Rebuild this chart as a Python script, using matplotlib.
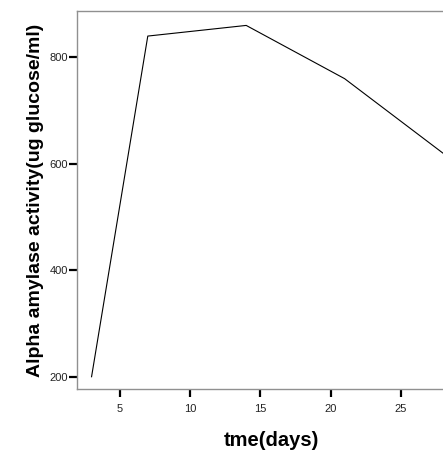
import matplotlib
matplotlib.use('Agg')
import matplotlib.pyplot as plt

# data
days = [3, 7, 14, 21, 28]
activity = [200, 840, 860, 760, 620]
xticks = [5, 10, 15, 20, 25]
yticks = [200, 400, 600, 800]

plt.rcParams['font.family'] = ['Liberation Sans', 'DejaVu Sans']

fig = plt.figure(figsize=(4.43, 4.51), dpi=100)
ax = fig.add_axes([0.174, 0.1375, 0.826, 0.838])

ax.plot(days, activity, color='black', linewidth=0.8)
ax.set_xlim(1.97, 28)
ax.set_ylim(177, 887)
ax.set_xticks(xticks)
ax.set_yticks(yticks)

for side in ['left', 'bottom', 'top']:
    ax.spines[side].set_color('#909090')
    ax.spines[side].set_linewidth(1.0)
ax.spines['right'].set_visible(False)

ax.tick_params(direction='out', length=5.5, width=1.6, color='black',
               labelsize=8, labelcolor='#222222', pad=1)
ax.tick_params(axis='x', pad=5)

ax.set_xlabel('tme(days)', fontsize=14.5, fontweight='bold')
ax.xaxis.set_label_coords(0.53, -0.11)
ax.set_ylabel('Alpha amylase activity(ug glucose/ml)', fontsize=14,
              fontweight='bold', labelpad=4)

fig.savefig('out.png', dpi=100)
